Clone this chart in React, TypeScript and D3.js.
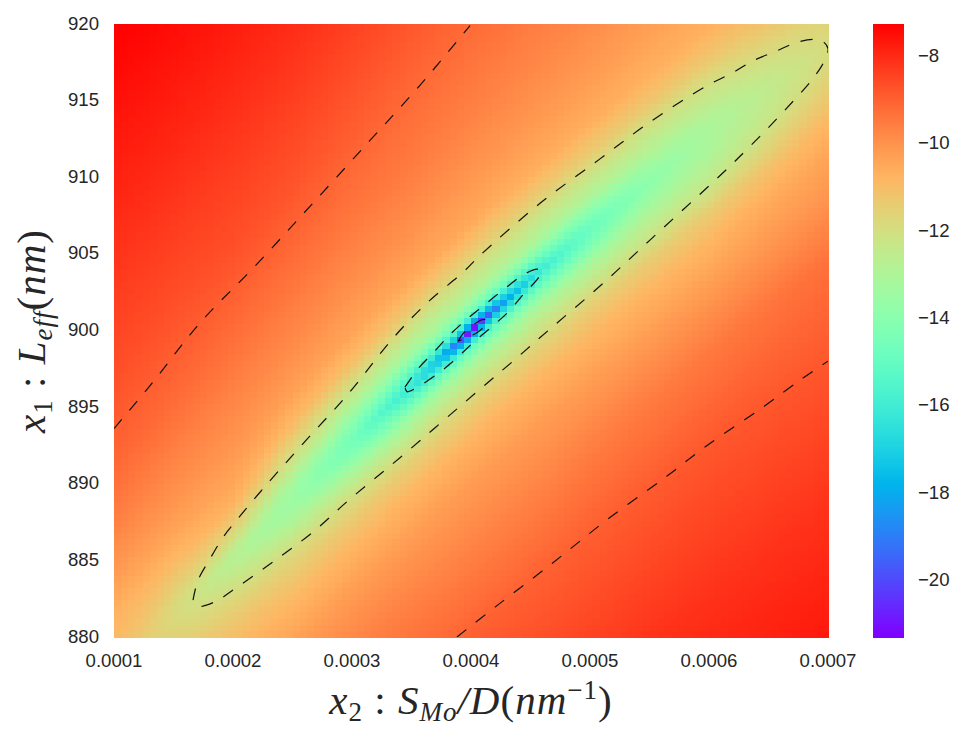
import React from "react";
import * as d3 from "d3";

// x₂ in units of 1e-4 nm⁻¹, x₁ in nm
const xTicks = [1, 2, 3, 4, 5, 6, 7];
const yTicks = [880, 885, 890, 895, 900, 905, 910, 915, 920];
const barTicks = [-8, -10, -12, -14, -16, -18, -20];

// x₂ positions at which a cross-section of the surface was read
const stations = [1, 1.5, 2, 2.5, 3, 3.5, 3.75, 4, 4.25, 4.6, 5, 5.5, 6, 6.5, 7];
// x₁ of the valley floor at each station
const valleyY = [877.5, 881.4, 885.2, 889, 892.8, 896.4, 898.2, 900, 901.7, 904, 906.5, 909.6, 912.7, 915.6, 918.4];
// distance in nm from the valley floor at which values were read
const offsets = [-42, -30, -20, -14, -10, -7, -5, -3.5, -2.2, -1.2, -0.6, 0, 0.6, 1.2, 2.2, 3.5, 5, 7, 10, 14, 20, 30, 42];
// one cross-section per station
const sections = [
  [-7.6, -8.1, -8.8, -9.3, -9.8, -10.2, -10.5, -10.7, -10.85, -10.95, -11, -11, -11, -10.95, -10.9, -10.8, -10.5, -10.1, -9.6, -9.1, -8.65, -8, -7.27],
  [-7.6, -8.15, -8.85, -9.4, -9.95, -10.4, -10.8, -11.1, -11.4, -11.6, -11.75, -11.8, -11.75, -11.6, -11.3, -10.9, -10.5, -10.1, -9.7, -9.2, -8.7, -8, -7.27],
  [-7.6, -8.2, -8.9, -9.5, -10.1, -10.6, -11.05, -11.5, -12, -12.4, -12.65, -12.8, -12.5, -12, -11.4, -10.7, -10.4, -10.1, -9.75, -9.3, -8.7, -8.05, -7.3],
  [-7.6, -8.2, -8.95, -9.6, -10.2, -10.8, -11.3, -11.8, -12.5, -13.1, -13.4, -13.5, -13.4, -13.1, -12.4, -11.7, -10.9, -10.3, -9.85, -9.4, -8.8, -8.1, -7.4],
  [-7.6, -8.2, -9, -9.6, -10.2, -10.8, -11.4, -12.1, -13, -13.9, -14.4, -14.6, -14.4, -13.9, -13, -12.1, -11.1, -10.4, -9.95, -9.5, -8.95, -8.2, -7.5],
  [-7.5, -8.2, -9, -9.65, -10.2, -10.8, -11.45, -12.3, -13.3, -14.7, -15.6, -16.3, -15.6, -14.7, -13.3, -12.4, -11.3, -10.5, -10, -9.55, -9.1, -8.3, -7.6],
  [-7.5, -8.2, -9, -9.7, -10.2, -10.8, -11.5, -12.3, -13.2, -14.7, -16.2, -17.8, -16.2, -14.7, -13.1, -12.3, -11.4, -10.5, -10.05, -9.6, -9.15, -8.4, -7.7],
  [-7.5, -8.2, -9, -9.7, -10.2, -10.8, -11.5, -12.3, -13.2, -14.8, -16.6, -21.3, -16.6, -14.6, -13, -12.3, -11.4, -10.5, -10.1, -9.65, -9.2, -8.5, -7.8],
  [-7.5, -8.2, -9, -9.7, -10.2, -10.8, -11.5, -12.3, -13.2, -14.8, -16.3, -18.5, -16.3, -14.6, -13, -12.3, -11.4, -10.6, -10.1, -9.7, -9.2, -8.5, -7.8],
  [-7.5, -8.2, -9, -9.7, -10.2, -10.8, -11.5, -12.3, -13.2, -14.5, -15.4, -16, -15.4, -14.4, -13, -12.3, -11.4, -10.6, -10.15, -9.75, -9.3, -8.6, -7.9],
  [-7.5, -8.2, -8.95, -9.6, -10.2, -10.8, -11.45, -12.3, -13.1, -14.1, -14.6, -14.9, -14.6, -14, -13, -12.3, -11.4, -10.65, -10.2, -9.8, -9.4, -8.7, -8],
  [-7.5, -8.15, -8.9, -9.55, -10.2, -10.8, -11.4, -12.2, -12.9, -13.4, -13.7, -13.9, -13.7, -13.4, -12.8, -12.2, -11.35, -10.7, -10.3, -9.9, -9.5, -8.8, -8.2],
  [-7.5, -8.15, -8.85, -9.5, -10.2, -10.8, -11.4, -12.2, -12.7, -13, -13.05, -13.1, -13.05, -12.9, -12.5, -12, -11.3, -10.7, -10.3, -10, -9.6, -9, -8.4],
  [-7.5, -8.15, -8.85, -9.4, -10.1, -10.6, -11.1, -11.7, -12.2, -12.4, -12.45, -12.5, -12.45, -12.3, -12, -11.5, -11, -10.6, -10.3, -10, -9.7, -9.1, -8.5],
  [-7.5, -8.15, -8.85, -9.3, -10, -10.4, -10.8, -11.2, -11.5, -11.75, -11.85, -11.9, -11.85, -11.7, -11.5, -11.2, -10.8, -10.5, -10.2, -10, -9.7, -9.2, -8.6],
];

// dashed level curves, [x₂, x₁]
const contourOuterUpper = [[1, 893.6], [1.303, 896.4], [1.723, 900.5], [2.185, 904.2], [2.647, 908.1], [3.151, 912.4], [3.571, 916], [3.992, 919.9]];
const contourOuterLower = [[3.882, 880], [4.202, 881.95], [4.681, 884.8], [5.151, 887.7], [5.647, 890.5], [5.966, 892.4], [6.454, 895], [6.79, 896.9], [7, 898]];
const contourMiddle = [
  [1.664, 882.4], [1.706, 883.7], [1.807, 885.1], [1.916, 886.5], [2.017, 887.5], [2.244, 889.6], [2.563, 892.4], [2.983, 896], [3.345, 899.5],
  [3.63, 901.8], [3.933, 903.8], [4.076, 904.9], [4.58, 908.3], [5.084, 911.2], [5.504, 913.6], [5.966, 915.9], [6.193, 916.8], [6.37, 917.6],
  [6.555, 918.2], [6.739, 918.8], [6.891, 919], [6.966, 918.8], [7, 918.4], [6.992, 918], [6.95, 917.3], [6.849, 916.2], [6.723, 915.1],
  [6.58, 913.9], [6.445, 912.8], [6.303, 911.7], [6.16, 910.6], [5.504, 905.9], [5.084, 902.9], [4.664, 900.1], [4.353, 898], [4.05, 896],
  [3.403, 891.7], [2.983, 889], [2.664, 886.8], [2.353, 885], [2.025, 883.2], [1.849, 882.3], [1.697, 882], [1.664, 882.4],
];
const contourInner = [
  [3.445, 896.3], [3.555, 897.5], [3.689, 898.6], [3.832, 899.8], [3.975, 900.8], [4.134, 901.8], [4.294, 902.8], [4.454, 903.7], [4.555, 904],
  [4.597, 903.9], [4.563, 903.4], [4.445, 902.4], [4.311, 901.2], [4.168, 900.2], [4.017, 899.2], [3.866, 898.1], [3.706, 897.1], [3.504, 896.1],
  [3.462, 896], [3.445, 896.3],
];
const contourCore = [[3.891, 899.3], [3.933, 899.8], [4.008, 900.3], [4.092, 900.7], [4.134, 900.7], [4.134, 900.5], [4.059, 899.9], [3.95, 899.5], [3.891, 899.3]];
const contours = [contourOuterUpper, contourOuterLower, contourMiddle, contourInner, contourCore];

const plot = { left: 114, right: 828, top: 24, bottom: 637 };
const bar = { left: 873, right: 904 };
const textColor = "#262626";
const tickFont = "'Liberation Sans', Arial, sans-serif";
const mathFont = "'Liberation Serif', 'Times New Roman', serif";
const valueMin = -21.3;
const valueMax = -7.27;
const CELLS = 100;

const x = d3.scaleLinear().domain([1, 7]).range([plot.left, plot.right]);
const y = d3.scaleLinear().domain([880, 920]).range([plot.bottom, plot.top]);
const barY = d3.scaleLinear().domain([valueMin, valueMax]).range([plot.bottom, plot.top]);

function rainbow(v: number) {
  const t = Math.max(0, Math.min(1, (v - valueMin) / (valueMax - valueMin)));
  const r = Math.min(1, Math.abs(2 * t - 0.5));
  const g = Math.sin(Math.PI * t);
  const b = Math.cos((Math.PI * t) / 2);
  return d3.rgb(r * 255, g * 255, b * 255).formatHex();
}

const profileScales = sections.map((row) => d3.scaleLinear().domain(offsets).range(row).clamp(true));

function surface(px: number, py: number) {
  const i = Math.max(0, Math.min(stations.length - 2, d3.bisectRight(stations, px) - 1));
  const t = (px - stations[i]) / (stations[i + 1] - stations[i]);
  const floor = valleyY[i] + t * (valleyY[i + 1] - valleyY[i]);
  const u = py - floor;
  return profileScales[i](u) * (1 - t) + profileScales[i + 1](u) * t;
}

const line = d3.line<number[]>().x((d) => x(d[0])).y((d) => y(d[1])).curve(d3.curveCatmullRom.alpha(0.5));

export default function App() {
  const cw = (plot.right - plot.left) / CELLS;
  const ch = (plot.bottom - plot.top) / CELLS;
  const cells = d3.range(CELLS).flatMap((i) =>
    d3.range(CELLS).map((j) => {
      const cx = x.invert(plot.left + (i + 0.5) * cw);
      const cy = y.invert(plot.top + (j + 0.5) * ch);
      return (
        <rect
          key={`${i}-${j}`}
          x={plot.left + i * cw}
          y={plot.top + j * ch}
          width={cw + 0.5}
          height={ch + 0.5}
          fill={rainbow(surface(cx, cy))}
        />
      );
    })
  );
  const barSteps = d3.range(0, plot.bottom - plot.top);
  return (
    <svg
      width={965}
      height={739}
      style={{ position: "absolute", left: 0, top: 0, background: "#fff" }}
    >
      <g shapeRendering="crispEdges">{cells}</g>
      <clipPath id="plotClip">
        <rect x={plot.left} y={plot.top} width={plot.right - plot.left} height={plot.bottom - plot.top} />
      </clipPath>
      <g clipPath="url(#plotClip)" fill="none" stroke="#111" strokeWidth={1.2} strokeDasharray="12 12">
        {contours.map((c, i) => (
          <path key={i} d={line(c) as string} />
        ))}
      </g>
      <g shapeRendering="crispEdges">
        {barSteps.map((s) => (
          <rect
            key={s}
            x={bar.left}
            y={plot.top + s}
            width={bar.right - bar.left}
            height={1.5}
            fill={rainbow(barY.invert(plot.top + s + 0.5))}
          />
        ))}
      </g>
      <g fontFamily={tickFont} fontSize={18.6} fill={textColor}>
        {xTicks.map((t) => (
          <text key={t} x={x(t)} y={667} textAnchor="middle">
            {(t * 1e-4).toFixed(4)}
          </text>
        ))}
        {yTicks.map((t) => (
          <text key={t} x={99} y={y(t) + 5.5} textAnchor="end">
            {t}
          </text>
        ))}
        {barTicks.map((t) => (
          <text key={t} x={918} y={barY(t) + 6}>
            {"\u2212" + Math.abs(t)}
          </text>
        ))}
      </g>
      <text x={471} y={714} textAnchor="middle" fontFamily={mathFont} fontSize={41} letterSpacing={1} fill={textColor}>
        <tspan fontStyle="italic">x</tspan>
        <tspan fontSize={27} dy={7}>2</tspan>
        <tspan dy={-7}> : </tspan>
        <tspan fontStyle="italic">S</tspan>
        <tspan fontSize={27} dy={7} fontStyle="italic">Mo</tspan>
        <tspan dy={-7} fontStyle="italic">/D</tspan>
        <tspan>(</tspan>
        <tspan fontStyle="italic">nm</tspan>
        <tspan fontSize={27} dy={-15}>{"\u22121"}</tspan>
        <tspan dy={15}>)</tspan>
      </text>
      <text
        transform="translate(45,331) rotate(-90)"
        textAnchor="middle"
        fontFamily={mathFont}
        fontSize={41}
        letterSpacing={1}
        fill={textColor}
      >
        <tspan fontStyle="italic">x</tspan>
        <tspan fontSize={27} dy={7}>1</tspan>
        <tspan dy={-7}> : </tspan>
        <tspan fontStyle="italic">L</tspan>
        <tspan fontSize={27} dy={7} fontStyle="italic">eff</tspan>
        <tspan dy={-7}>(</tspan>
        <tspan fontStyle="italic">nm</tspan>
        <tspan>)</tspan>
      </text>
    </svg>
  );
}
